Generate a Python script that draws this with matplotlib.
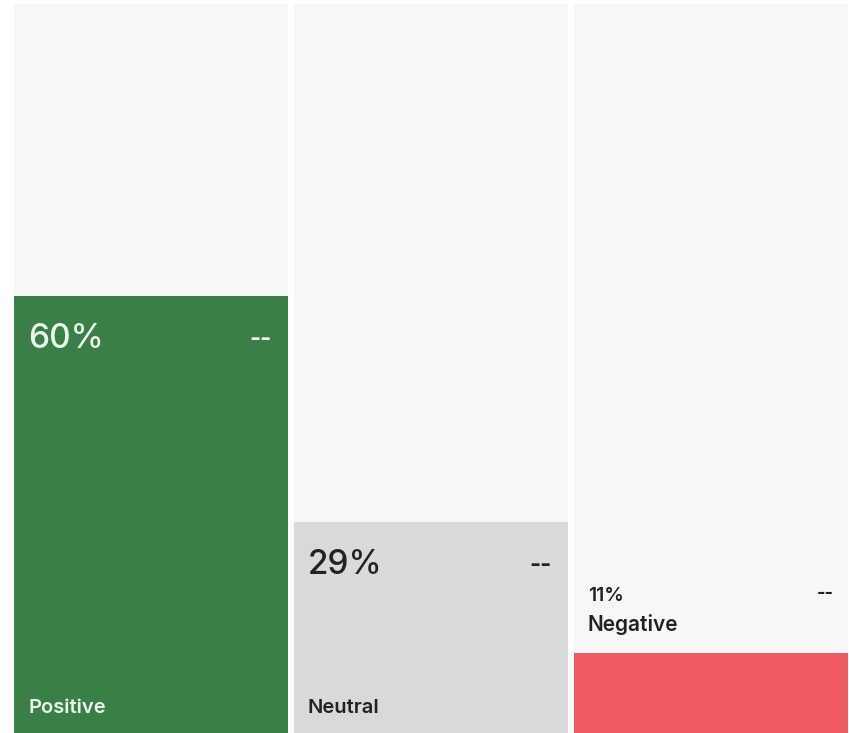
import matplotlib.pyplot as plt

# sentiment shares
categories = ["Positive", "Neutral", "Negative"]
shares = [60, 29, 11]
changes = ["--", "--", "--"]

BAR_COLORS = ["#3a7f46", "#d9d9d9", "#ee5a60"]
TEXT_COLORS = ["#e9f7ea", "#222222", "#222222"]
TRACK_COLOR = "#f7f7f7"
SMALL_LIMIT = 20  # below this, labels go above the bar

plt.rcParams["font.family"] = ["Inter", "DejaVu Sans"]

W, H = 849, 733
fig = plt.figure(figsize=(W / 100, H / 100), dpi=100)
ax = fig.add_axes([14 / W, 0, (848 - 14) / W, 729 / H])

width = 0.9786
xs = list(range(len(categories)))
ax.bar(xs, [100] * len(xs), width=width, color=TRACK_COLOR, linewidth=0)
ax.bar(xs, shares, width=width, color=BAR_COLORS, linewidth=0)
ax.set_xlim(-width / 2, len(xs) - 1 + width / 2)
ax.set_ylim(0, 100)
ax.axis("off")

px = 72 / 100  # pixels -> points

for i, (cat, val, chg) in enumerate(zip(categories, shares, changes)):
    left = i - width / 2
    right = i + width / 2
    col = TEXT_COLORS[i]
    if val >= SMALL_LIMIT:
        ax.annotate(f"{val}%", xy=(left, val), xytext=(14 * px, -52 * px),
                    textcoords="offset points", ha="left", va="baseline",
                    fontsize=24, fontweight="medium", color=col)
        ax.annotate(chg, xy=(right, val), xytext=(-16 * px, -44 * px),
                    textcoords="offset points", ha="right", va="center",
                    fontsize=17, fontweight="bold", color=col)
        ax.annotate(cat, xy=(left, 0), xytext=(14 * px, 20 * px),
                    textcoords="offset points", ha="left", va="baseline",
                    fontsize=14.5, fontweight="semibold", color=col)
    else:
        ax.annotate(f"{val}%", xy=(left, val), xytext=(14 * px, 52 * px),
                    textcoords="offset points", ha="left", va="baseline",
                    fontsize=14, fontweight="semibold", color=col)
        ax.annotate(chg, xy=(right, val), xytext=(-14 * px, 59 * px),
                    textcoords="offset points", ha="right", va="center",
                    fontsize=13, fontweight="bold", color=col)
        ax.annotate(cat, xy=(left, val), xytext=(14 * px, 22 * px),
                    textcoords="offset points", ha="left", va="baseline",
                    fontsize=15, fontweight="semibold", color=col)

fig.savefig("out.png", dpi=100, facecolor="white")
